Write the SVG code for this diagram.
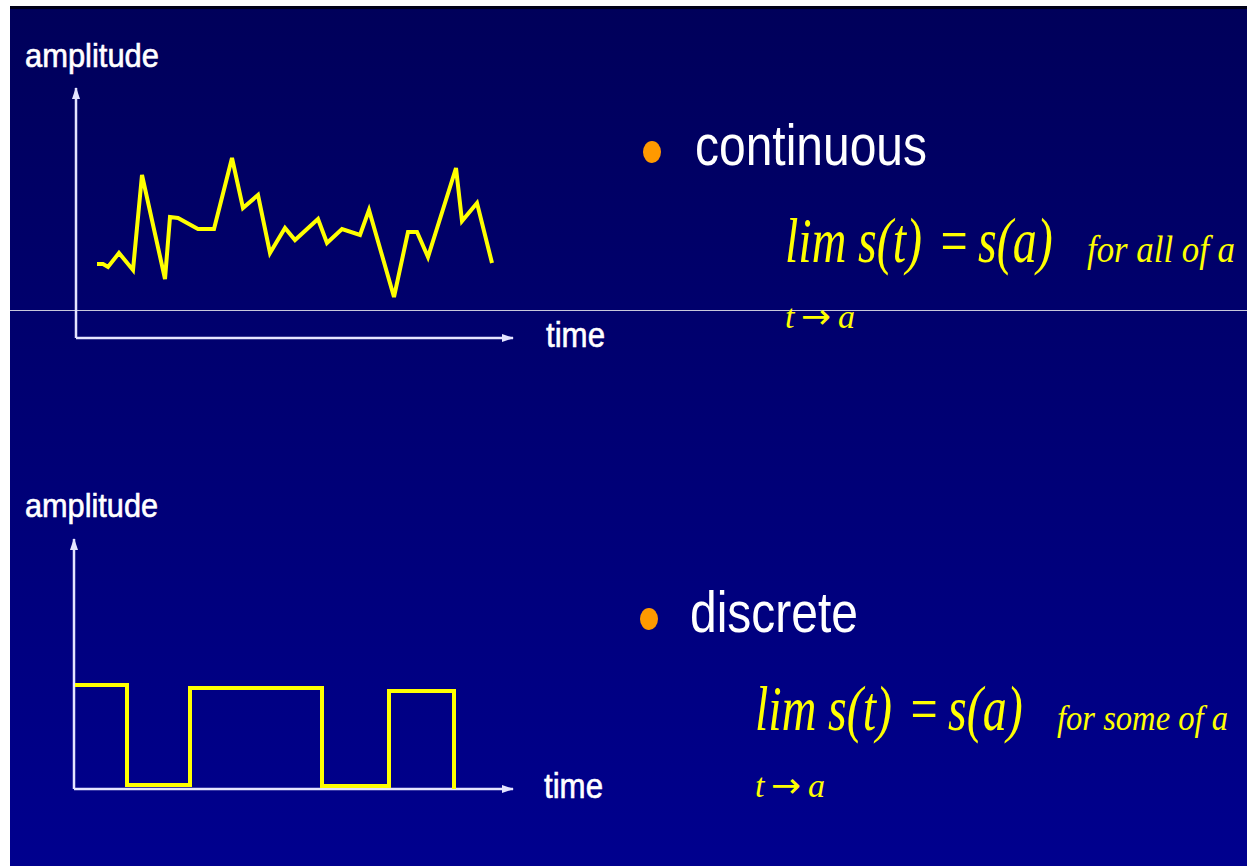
<svg xmlns="http://www.w3.org/2000/svg" width="1247" height="866" viewBox="0 0 1247 866">
  <defs>
    <linearGradient id="bg" x1="0" y1="0" x2="0" y2="1">
      <stop offset="0" stop-color="#00005a"/>
      <stop offset="1" stop-color="#00008e"/>
    </linearGradient>
    <marker id="ah" viewBox="0 0 12 8" refX="11" refY="4" markerWidth="12" markerHeight="8" markerUnits="userSpaceOnUse" orient="auto">
      <path d="M0,0 L12,4 L0,8 Z" fill="#e4e4ff"/>
    </marker>
  </defs>
  <style>
    .axis { fill: none; stroke: #e4e4ff; stroke-width: 2.5; }
    .sig { fill: none; stroke: #ffff00; stroke-width: 4; stroke-linejoin: miter; }
    .lab { font-family: "Liberation Sans", Arial, sans-serif; fill: #ffffff; stroke: #ffffff; stroke-width: 0.6; }
    .head { font-family: "Liberation Sans", Arial, sans-serif; fill: #ffffff; font-size: 58px; }
    .math { font-family: "Liberation Serif", "Times New Roman", serif; font-style: italic; fill: #ffff00; }
    .arr { font-family: "DejaVu Sans", sans-serif; font-size: 34px; font-style: normal; fill: #ffff00; }
    .bullet { fill: #ff9900; }
  </style>

  <rect x="0" y="0" width="1247" height="866" fill="#ffffff"/>
  <rect x="10" y="6" width="1237" height="860" fill="url(#bg)"/>
  <rect x="10" y="6" width="1237" height="3" fill="#000018"/>
  <line x1="10" y1="310.5" x2="1247" y2="310.5" stroke="#c8c8dc" stroke-width="1"/>

  <g id="connectors">
    <polyline class="axis" points="76,338 513,338" marker-end="url(#ah)"/>
    <polyline class="axis" points="76,338 76,88" marker-end="url(#ah)"/>
    <polyline class="axis" points="74,789 513,789" marker-end="url(#ah)"/>
    <polyline class="axis" points="74,789 74,539" marker-end="url(#ah)"/>
  </g>

  <g id="continuous-chart">
    <text class="lab" x="25" y="67" font-size="33" textLength="134" lengthAdjust="spacingAndGlyphs">amplitude</text>
    <text class="lab" x="546" y="347" font-size="35" textLength="59" lengthAdjust="spacingAndGlyphs">time</text>
    <polyline class="sig" points="97,264 103,264 108,267 119,253 133,270 142,175 165,279 170,217 178,218 198,229 214,229 232,158 243,208 258,195 270,253 285,228 295,240 318,219 327,243 342,229 360,235 369,210 394,297 408,232 417,232 428,257 456,168 462,221 477,203 492,263"/>
  </g>

  <g id="continuous-label">
    <ellipse class="bullet" cx="652" cy="152" rx="9" ry="11"/>
    <text class="head" x="695" y="165" textLength="232" lengthAdjust="spacingAndGlyphs">continuous</text>
    <g transform="scale(0.75 1)">
      <text class="math" y="262" font-size="64"><tspan x="1046.7">lim</tspan><tspan x="1144">s(t)</tspan><tspan x="1250">=</tspan><tspan x="1304">s(a)</tspan></text>
    </g>
    <text class="math" x="1087" y="262" font-size="37" textLength="148" lengthAdjust="spacingAndGlyphs">for all of a</text>
    <text class="math" x="785" y="328" font-size="34">t</text>
    <text class="arr" x="801" y="328" textLength="30" lengthAdjust="spacingAndGlyphs">→</text>
    <text class="math" x="838" y="328" font-size="34">a</text>
  </g>

  <g id="discrete-chart">
    <text class="lab" x="25" y="517" font-size="33" textLength="133" lengthAdjust="spacingAndGlyphs">amplitude</text>
    <text class="lab" x="544" y="798" font-size="35" textLength="59" lengthAdjust="spacingAndGlyphs">time</text>
    <polyline class="sig" points="75,685 127,685 127,785 190,785 190,688 322,688 322,786 389,786 389,691 454,691 454,789"/>
  </g>

  <g id="discrete-label">
    <ellipse class="bullet" cx="649" cy="619" rx="9" ry="11"/>
    <text class="head" x="690" y="632" textLength="168" lengthAdjust="spacingAndGlyphs">discrete</text>
    <g transform="scale(0.75 1)">
      <text class="math" y="730" font-size="64"><tspan x="1006.7">lim</tspan><tspan x="1104">s(t)</tspan><tspan x="1210">=</tspan><tspan x="1264">s(a)</tspan></text>
    </g>
    <text class="math" x="1057" y="730" font-size="36" textLength="171" lengthAdjust="spacingAndGlyphs">for some of a</text>
    <text class="math" x="755" y="797" font-size="34">t</text>
    <text class="arr" x="771" y="797" textLength="30" lengthAdjust="spacingAndGlyphs">→</text>
    <text class="math" x="808" y="797" font-size="34">a</text>
  </g>
</svg>
